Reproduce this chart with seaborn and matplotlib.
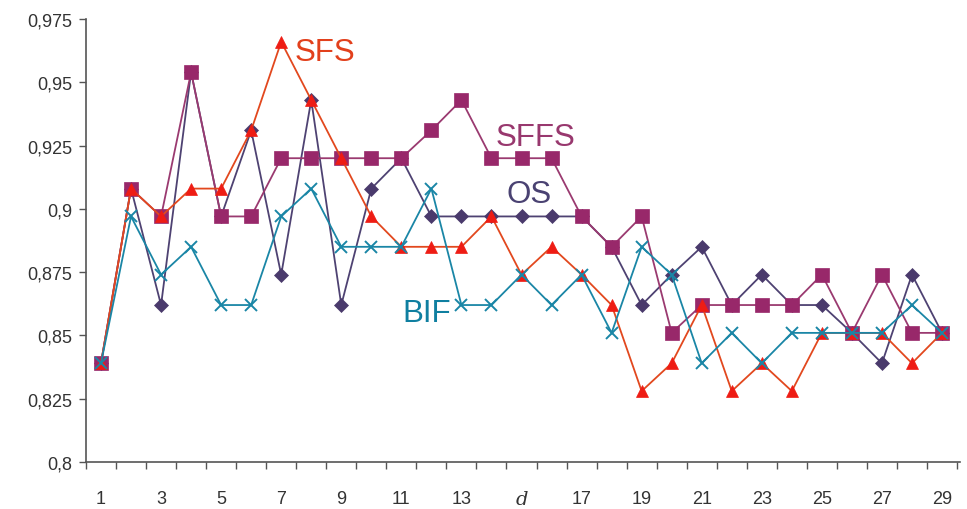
import seaborn as sns
import matplotlib.pyplot as plt
import pandas as pd

# values
d = list(range(1, 30))
sfs = [0.839, 0.908, 0.897, 0.908, 0.908, 0.931, 0.966, 0.943, 0.920, 0.897,
       0.885, 0.885, 0.885, 0.897, 0.874, 0.885, 0.874, 0.862, 0.828, 0.839,
       0.862, 0.828, 0.839, 0.828, 0.851, 0.851, 0.851, 0.839, 0.851]
sffs = [0.839, 0.908, 0.897, 0.954, 0.897, 0.897, 0.920, 0.920, 0.920, 0.920,
        0.920, 0.931, 0.943, 0.920, 0.920, 0.920, 0.897, 0.885, 0.897, 0.851,
        0.862, 0.862, 0.862, 0.862, 0.874, 0.851, 0.874, 0.851, 0.851]
os_ = [0.839, 0.908, 0.862, 0.954, 0.897, 0.931, 0.874, 0.943, 0.862, 0.908,
       0.920, 0.897, 0.897, 0.897, 0.897, 0.897, 0.897, 0.885, 0.862, 0.874,
       0.885, 0.862, 0.874, 0.862, 0.862, 0.851, 0.839, 0.874, 0.851]
bif = [0.839, 0.897, 0.874, 0.885, 0.862, 0.862, 0.897, 0.908, 0.885, 0.885,
       0.885, 0.908, 0.862, 0.862, 0.874, 0.862, 0.874, 0.851, 0.885, 0.874,
       0.839, 0.851, 0.839, 0.851, 0.851, 0.851, 0.851, 0.862, 0.851]

y_ticks = [0.8, 0.825, 0.85, 0.875, 0.9, 0.925, 0.95, 0.975]
y_labels = ["0,8", "0,825", "0,85", "0,875", "0,9", "0,925", "0,95", "0,975"]
x_label_pos = [1, 3, 5, 7, 9, 11, 13, 15, 17, 19, 21, 23, 25, 27, 29]
x_labels = ["1", "3", "5", "7", "9", "11", "13", "d", "17", "19", "21", "23", "25", "27", "29"]

sns.set_style("white")
plt.rcParams['font.family'] = ['Liberation Sans', 'DejaVu Sans']

fig = plt.figure(figsize=(9.67, 5.10), dpi=100)
ax = fig.add_axes([0.0889, 0.0922, 0.9039, 0.8686])

# drawing order: OS, SFFS, SFS, BIF
styles = [
    (os_, "#4e4272", "D", 7, "#4a3a6c", "#4a3a6c"),
    (sffs, "#9a3a70", "s", 10.5, "#98286a", "#98286a"),
    (sfs, "#e2481e", "^", 9, "#ee1c14", "#ee1c14"),
    (bif, "#1a86a6", "x", 8.5, "#1a86a6", "#1a86a6"),
]
for vals, lc, mk, ms, mfc, mec in styles:
    df = pd.DataFrame({"d": d, "acc": vals})
    sns.lineplot(data=df, x="d", y="acc", ax=ax, color=lc, linewidth=1.3,
                 marker=mk, markersize=ms, markerfacecolor=mfc,
                 markeredgecolor=mec, markeredgewidth=1.4 if mk == "x" else 0.5)

ax.set_xlim(0.5, 29.6)
ax.set_ylim(0.8, 0.975)
ax.set_xlabel("")
ax.set_ylabel("")

ax.set_yticks(y_ticks)
ax.set_yticklabels(y_labels, fontsize=13, color="#333333")

ax.set_xticks([i + 0.5 for i in range(0, 30)])
ax.set_xticklabels([])
ax.set_xticks(x_label_pos, minor=True)
ax.set_xticklabels(x_labels, minor=True, fontsize=13, color="#333333")
for lab in ax.get_xticklabels(minor=True):
    if lab.get_text() == "d":
        lab.set_fontfamily("DejaVu Serif")
        lab.set_fontstyle("italic")
        lab.set_fontsize(14)

ax.tick_params(axis="y", which="major", direction="out", length=5, width=1,
               color="#555555", pad=5, left=True)
ax.tick_params(axis="x", which="major", direction="out", length=5, width=1,
               color="#555555", bottom=True)
ax.tick_params(axis="x", which="minor", length=0, pad=20, bottom=True)

for s in ["top", "right"]:
    ax.spines[s].set_visible(False)
for s in ["left", "bottom"]:
    ax.spines[s].set_color("#555555")
    ax.spines[s].set_linewidth(1.2)

# series labels
ax.text(7.45, 0.962, "SFS", color="#e2401c", fontsize=22.5, va="center")
ax.text(14.15, 0.9285, "SFFS", color="#98386e", fontsize=22.5, va="center")
ax.text(14.5, 0.906, "OS", color="#4a4272", fontsize=22.5, va="center")
ax.text(11.05, 0.859, "BIF", color="#0f7fa0", fontsize=22.5, va="center")

fig.savefig("out.png", dpi=100)
